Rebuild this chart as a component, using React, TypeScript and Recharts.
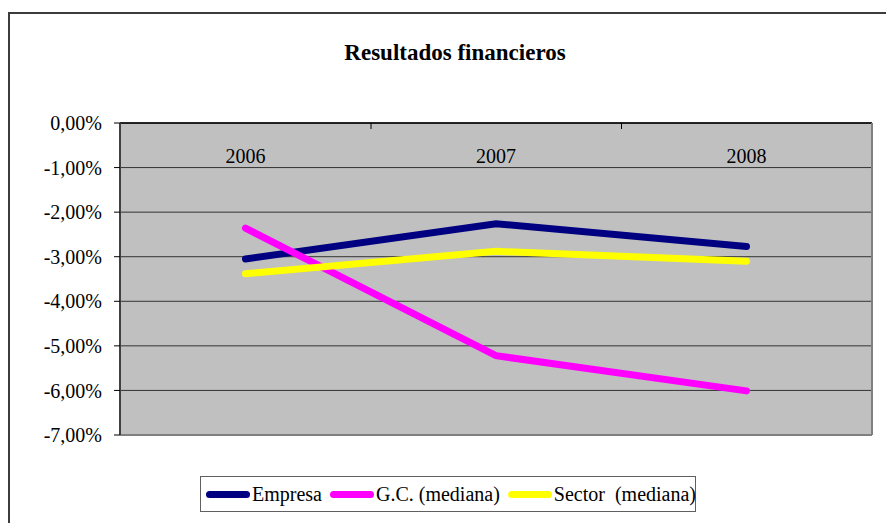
import { CartesianGrid, Line, LineChart, XAxis, YAxis } from "recharts"

const YEARS = ["2006", "2007", "2008"]
const EMPRESA = [-3.05, -2.26, -2.77]
const GC_MEDIANA = [-2.36, -5.22, -6.01]
const SECTOR_MEDIANA = [-3.38, -2.88, -3.1]
const Y_TICKS = [0, -1, -2, -3, -4, -5, -6, -7]

const SERIES = [
  { key: "empresa", name: "Empresa", color: "#000080" },
  { key: "gc", name: "G.C. (mediana)", color: "#FF00FF" },
  { key: "sector", name: "Sector  (mediana)", color: "#FFFF00" },
]

const FONT = "'Liberation Serif', 'Times New Roman', serif"
// half of a category slot: the x axis is padded by this on both sides
const HALF_SLOT = 125.5

const data = YEARS.map((year, i) => ({
  year,
  empresa: EMPRESA[i],
  gc: GC_MEDIANA[i],
  sector: SECTOR_MEDIANA[i],
}))

const formatPct = (v: number) => `${v.toFixed(2).replace(".", ",")}%`

function YearTick(props: any) {
  const { x, y, payload, index, visibleTicksCount } = props
  return (
    <g>
      <text x={x} y={y + 40} textAnchor="middle" fontSize={20} fontFamily={FONT} fill="#000">
        {payload.value}
      </text>
      {index < visibleTicksCount - 1 && (
        <line x1={x + HALF_SLOT} x2={x + HALF_SLOT} y1={y} y2={y + 6} stroke="#000" />
      )}
    </g>
  )
}

export default function App() {
  return (
    <div
      style={{
        position: "absolute",
        left: 0,
        top: 0,
        width: 886,
        height: 523,
        overflow: "hidden",
        background: "#fff",
        fontFamily: FONT,
      }}
    >
      <div
        style={{
          position: "absolute",
          left: 8,
          top: 12,
          width: 1000,
          height: 1000,
          borderLeft: "2px solid #3c3c3c",
          borderTop: "2px solid #3c3c3c",
        }}
      />
      <div
        style={{
          position: "absolute",
          left: 0,
          top: 41,
          width: 910,
          textAlign: "center",
          fontSize: 23,
          lineHeight: "23px",
          fontWeight: "bold",
        }}
      >
        Resultados financieros
      </div>
      <div style={{ position: "absolute", left: 0, top: 0 }}>
        <LineChart
          width={886}
          height={523}
          data={data}
          margin={{ top: 103, right: 13, bottom: 87, left: 60 }}
        >
          <CartesianGrid vertical={false} stroke="#333" fill="#C0C0C0" fillOpacity={1} />
          <XAxis
            dataKey="year"
            orientation="top"
            height={20}
            padding={{ left: HALF_SLOT, right: HALF_SLOT }}
            tickLine={false}
            tickSize={0}
            tickMargin={0}
            axisLine={{ stroke: "#000", strokeWidth: 1.5 }}
            tick={<YearTick />}
            interval={0}
          />
          <XAxis
            xAxisId="frame"
            dataKey="year"
            orientation="bottom"
            height={1}
            tick={false}
            tickLine={false}
            axisLine={{ stroke: "#808080", strokeWidth: 2 }}
          />
          <YAxis
            width={60}
            domain={[-7, 0]}
            ticks={Y_TICKS}
            interval={0}
            tickFormatter={formatPct}
            tickSize={6}
            tickMargin={12}
            tickLine={{ stroke: "#000" }}
            axisLine={{ stroke: "#404040", strokeWidth: 2 }}
            tick={{ fill: "#000", fontSize: 20, fontFamily: FONT }}
          />
          <YAxis
            yAxisId="frame"
            orientation="right"
            width={1}
            domain={[-7, 0]}
            tick={false}
            tickLine={false}
            axisLine={{ stroke: "#808080", strokeWidth: 2 }}
          />
          {SERIES.map((s) => (
            <Line
              key={s.key}
              dataKey={s.key}
              name={s.name}
              stroke={s.color}
              strokeWidth={7}
              strokeLinecap="round"
              dot={false}
              activeDot={false}
              isAnimationActive={false}
            />
          ))}
        </LineChart>
      </div>
      <div
        style={{
          position: "absolute",
          left: 200,
          top: 476,
          width: 496,
          height: 36,
          boxSizing: "border-box",
          border: "1px solid #606060",
          display: "flex",
          alignItems: "center",
          paddingLeft: 5,
          gap: 8,
          fontSize: 20,
          whiteSpace: "pre",
        }}
      >
        {SERIES.map((s) => (
          <div key={s.key} style={{ display: "flex", alignItems: "center" }}>
            <span
              style={{
                display: "inline-block",
                width: 44,
                height: 7,
                borderRadius: 4,
                background: s.color,
                marginRight: 2,
              }}
            />
            <span>{s.name}</span>
          </div>
        ))}
      </div>
    </div>
  )
}
